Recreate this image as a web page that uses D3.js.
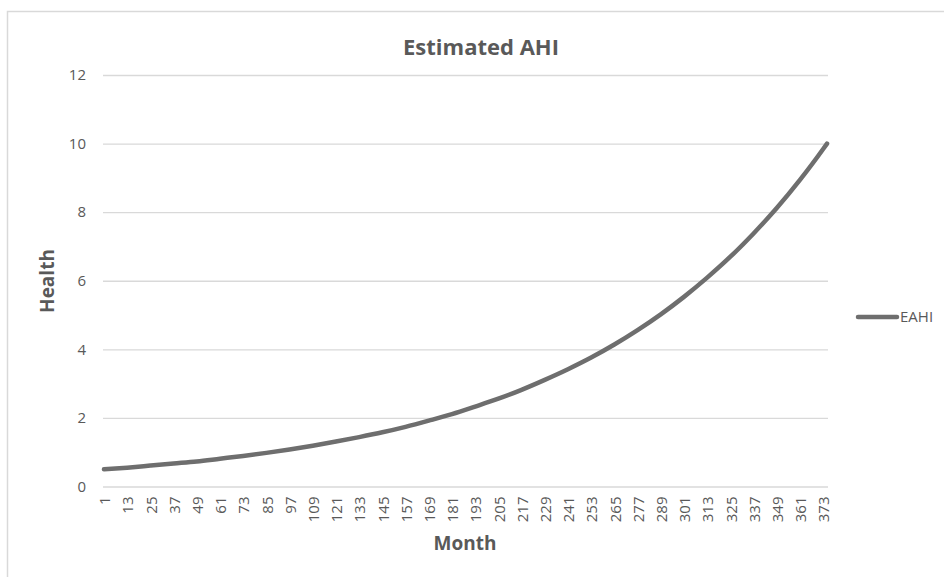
<!DOCTYPE html>
<html>
<head>
<meta charset="utf-8">
<script src="https://cdn.jsdelivr.net/npm/d3@7"></script>
<style>
  html, body { margin: 0; padding: 0; background: #fff; }
  svg { display: block; font-family: "Open Sans", sans-serif; }
  svg text { font-family: "Open Sans", sans-serif; }
</style>
</head>
<body>
<svg id="chart" width="944" height="577"></svg>
<script>
// Estimated AHI by month (sampled every 12 months)
const months = [1, 13, 25, 37, 49, 61, 73, 85, 97, 109, 121, 133, 145, 157, 169, 181,
  193, 205, 217, 229, 241, 253, 265, 277, 289, 301, 313, 325, 337, 349, 361, 373, 375];
const eahi = [0.50, 0.55, 0.61, 0.67, 0.73, 0.81, 0.89, 0.98, 1.08, 1.19, 1.31, 1.44,
  1.58, 1.74, 1.92, 2.11, 2.33, 2.56, 2.82, 3.11, 3.42, 3.76, 4.14, 4.56, 5.02, 5.53,
  6.09, 6.70, 7.38, 8.12, 8.94, 9.84, 10.00];
const monthCount = 375;
const xTickLabels = [1, 13, 25, 37, 49, 61, 73, 85, 97, 109, 121, 133, 145, 157, 169, 181,
  193, 205, 217, 229, 241, 253, 265, 277, 289, 301, 313, 325, 337, 349, 361, 373];
const yTicks = [0, 2, 4, 6, 8, 10, 12];
const seriesName = "EAHI";

const svg = d3.select("#chart");
const plot = { left: 103, right: 828, top: 75, bottom: 486.5 };
const textColor = "#595959";
const gridColor = "#d9d9d9";
const lineColor = "#6e6e6e";
const tickFont = "15px";

// chart frame
svg.append("rect")
  .attr("x", 7.5).attr("y", 11.5)
  .attr("width", 1000).attr("height", 1000)
  .attr("fill", "none").attr("stroke", gridColor).attr("stroke-width", 1.5);

const x = d3.scaleBand()
  .domain(d3.range(1, monthCount + 1))
  .range([plot.left, plot.right])
  .padding(0);
const xc = m => x(m) + x.bandwidth() / 2;

const y = d3.scaleLinear().domain([0, 12]).range([plot.bottom, plot.top]);

// horizontal gridlines + y labels
const yAxis = d3.axisLeft(y).tickValues(yTicks).tickSize(-(plot.right - plot.left)).tickPadding(17);
const gy = svg.append("g").attr("transform", `translate(${plot.left},0)`).call(yAxis)
  .attr("font-family", null).attr("font-size", null);
gy.select(".domain").remove();
gy.selectAll(".tick line").attr("stroke", gridColor).attr("stroke-width", 1.3);
gy.selectAll(".tick text").attr("fill", textColor).style("font-size", tickFont);

// x axis labels
const xAxis = d3.axisBottom(x).tickValues(xTickLabels).tickSize(0).tickPadding(0);
const gx = svg.append("g").attr("transform", `translate(0,${plot.bottom})`).call(xAxis)
  .attr("font-family", null).attr("font-size", null);
gx.select(".domain").remove();
gx.selectAll(".tick text")
  .attr("fill", textColor)
  .style("font-size", tickFont)
  .attr("text-anchor", "end")
  .attr("dy", "0.35em")
  .attr("transform", "translate(1,10) rotate(-90)")
  .attr("x", 0).attr("y", 0);

// series line
const line = d3.line()
  .x((d, i) => xc(months[i]))
  .y(d => y(d))
  .curve(d3.curveMonotoneX);
svg.append("path")
  .datum(eahi)
  .attr("d", line)
  .attr("fill", "none")
  .attr("stroke", lineColor)
  .attr("stroke-width", 4.5)
  .attr("stroke-linecap", "round")
  .attr("stroke-linejoin", "round");

// title
svg.append("text")
  .attr("x", 481).attr("y", 55)
  .attr("text-anchor", "middle")
  .attr("fill", textColor)
  .style("font-size", "22px").style("font-weight", "bold")
  .text("Estimated AHI");

// axis titles
svg.append("text")
  .attr("transform", "translate(54,281) rotate(-90)")
  .attr("text-anchor", "middle")
  .attr("fill", textColor)
  .style("font-size", "19px").style("font-weight", "bold")
  .text("Health");
svg.append("text")
  .attr("x", 465).attr("y", 550)
  .attr("text-anchor", "middle")
  .attr("fill", textColor)
  .style("font-size", "19px").style("font-weight", "bold")
  .text("Month");

// legend
const lg = svg.append("g");
lg.append("line")
  .attr("x1", 858).attr("x2", 897).attr("y1", 317).attr("y2", 317)
  .attr("stroke", lineColor).attr("stroke-width", 4.5).attr("stroke-linecap", "round");
lg.append("text")
  .attr("x", 900).attr("y", 322)
  .attr("fill", textColor)
  .style("font-size", tickFont)
  .text(seriesName);
</script>
</body>
</html>
